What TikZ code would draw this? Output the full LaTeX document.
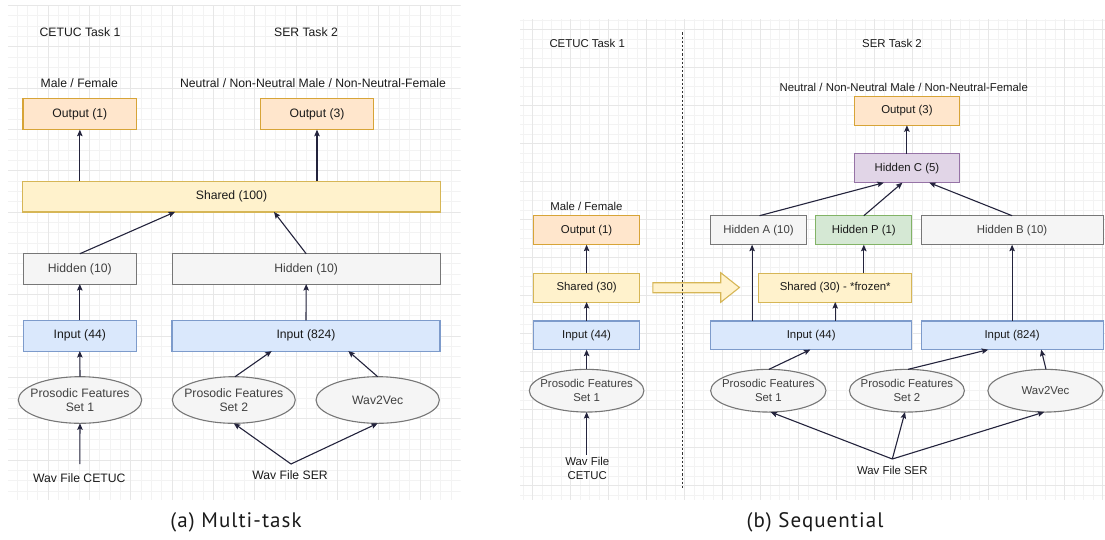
\documentclass[tikz,border=0pt]{standalone}
\usepackage{fontspec}
\setmainfont{Liberation Sans}
\newfontfamily\capfont[LetterSpace=5]{PT Sans}
\usetikzlibrary{arrows.meta,shapes.geometric,calc}

\definecolor{gridminor}{HTML}{F3F3F3}
\definecolor{gridmajor}{HTML}{E7E7E7}
\definecolor{orfill}{HTML}{FFE6CC}
\definecolor{ordraw}{HTML}{D7A437}
\definecolor{yefill}{HTML}{FFF2CC}
\definecolor{yedraw}{HTML}{D6B656}
\definecolor{grfill}{HTML}{F5F5F5}
\definecolor{grdraw}{HTML}{777777}
\definecolor{blfill}{HTML}{DAE8FC}
\definecolor{bldraw}{HTML}{7D9BCB}
\definecolor{pufill}{HTML}{E1D5E7}
\definecolor{pudraw}{HTML}{9673A6}
\definecolor{gnfill}{HTML}{D5E8D4}
\definecolor{gndraw}{HTML}{82B366}
\definecolor{linecol}{HTML}{23233C}
\definecolor{txt}{HTML}{1A1A1A}

\tikzset{
  box/.style={draw, line width=1.1pt, inner sep=0pt, outer sep=0pt, text=txt},
  outbox/.style={box, fill=orfill, draw=ordraw},
  sharedbox/.style={box, fill=yefill, draw=yedraw},
  hidbox/.style={box, fill=grfill, draw=grdraw, text=black!75},
  inbox/.style={box, fill=blfill, draw=bldraw},
  hidc/.style={box, fill=pufill, draw=pudraw},
  hidp/.style={box, fill=gnfill, draw=gndraw},
  feat/.style={ellipse, draw=grdraw, fill=grfill, line width=1.1pt,
    inner xsep=-30pt, inner ysep=-12pt, outer sep=0pt, align=center, text=black!75},
  lbl/.style={inner sep=0pt, text=txt, align=center},
  arr/.style={draw=linecol, line width=1.1pt, -{Stealth[length=6.5pt,width=5.5pt,inset=1.2pt]}},
  fA/.style={font=\fontsize{12.2}{14.5}\selectfont},
  fB/.style={font=\fontsize{11.4}{14}\selectfont},
}

\begin{document}
\begin{tikzpicture}[x=1pt,y=-1pt]
\useasboundingbox (0,0) rectangle (1105,539);

% ---------- background grids ----------
\begin{scope}
  \clip (8,5) rectangle (460.7,499.5);
  \foreach \i in {0,...,44} {
    \pgfmathsetmacro\gx{6.7+10.333*\i}
    \draw[gridminor, line width=0.6pt] (\gx,0) -- (\gx,510);
  }
  \foreach \i in {0,...,48} {
    \pgfmathsetmacro\gy{5.3+10.333*\i}
    \draw[gridminor, line width=0.6pt] (0,\gy) -- (470,\gy);
  }
  \foreach \i in {0,...,11} {
    \pgfmathsetmacro\gx{6.7+41.333*\i}
    \draw[gridmajor, line width=0.7pt] (\gx,0) -- (\gx,510);
  }
  \foreach \i in {0,...,12} {
    \pgfmathsetmacro\gy{5.3+41.333*\i}
    \draw[gridmajor, line width=0.7pt] (0,\gy) -- (470,\gy);
  }
\end{scope}
\begin{scope}
  \clip (520,19) rectangle (1105,499);
  \foreach \i in {-53,...,9} {
    \pgfmathsetmacro\gx{1026.3+9.5*\i}
    \draw[gridminor, line width=0.6pt] (\gx,10) -- (\gx,510);
  }
  \foreach \i in {-6,...,46} {
    \pgfmathsetmacro\gy{67.7+9.5*\i}
    \draw[gridminor, line width=0.6pt] (510,\gy) -- (1110,\gy);
  }
  \foreach \i in {-14,...,3} {
    \pgfmathsetmacro\gx{1026.3+38*\i}
    \draw[gridmajor, line width=0.7pt] (\gx,10) -- (\gx,510);
  }
  \foreach \i in {-2,...,12} {
    \pgfmathsetmacro\gy{67.7+38*\i}
    \draw[gridmajor, line width=0.7pt] (510,\gy) -- (1110,\gy);
  }
\end{scope}

% ================= (a) multi-task =================
\begin{scope}[fA]
  \node[lbl] (tA1) at (80,32) {CETUC Task 1};
  \node[lbl] (tA2) at (306,32) {SER Task 2};
  \node[lbl] (mfA) at (79.3,83.3) {Male / Female};
  \node[lbl] (nnA) at (313,83.3) {Neutral / Non-Neutral Male / Non-Neutral-Female};

  \node[outbox, minimum width=113.7pt, minimum height=31pt] (outA1) at (79.85,114.2) {Output (1)};
  \node[outbox, minimum width=113.4pt, minimum height=31pt] (outA3) at (317,114.2) {Output (3)};
  \node[sharedbox, minimum width=418.4pt, minimum height=30.7pt] (shA) at (231.5,196.6) {Shared (100)};
  \node[hidbox, minimum width=113pt, minimum height=30.3pt] (hidA1) at (79.8,268.9) {Hidden (10)};
  \node[hidbox, minimum width=268.3pt, minimum height=30.3pt] (hidA2) at (306.2,268.9) {Hidden (10)};
  \node[inbox, minimum width=113pt, minimum height=30.7pt] (inA1) at (79.8,335.7) {Input (44)};
  \node[inbox, minimum width=268pt, minimum height=30.7pt] (inA2) at (306,335.7) {Input (824)};
  \node[feat, minimum width=123.4pt, minimum height=46.6pt] (pfA1) at (80,400) {Prosodic Features\\Set 1};
  \node[feat, minimum width=123pt, minimum height=46.6pt] (pfA2) at (233.8,400) {Prosodic Features\\Set 2};
  \node[feat, minimum width=123.3pt, minimum height=46.6pt] (wvA) at (377.7,400) {Wav2Vec};
  \node[lbl] (wavA1) at (79.3,478.3) {Wav File CETUC};
  \node[lbl] (wavA2) at (290,475) {Wav File SER};
  \coordinate (wavA1top) at (79.8,464);
  \coordinate (wavA2top) at (291,464);
\end{scope}

\draw[arr] (wavA1top) -- (pfA1.south);
\draw[arr] (pfA1.north) -- (inA1.south);
\draw[arr] (inA1.north) -- (hidA1.south);
\draw[arr] (hidA1.north) -- ([xshift=-56.5pt]shA.south);
\draw[arr] (wavA2top) -- (pfA2.south);
\draw[arr] (wavA2top) -- (wvA.south);
\draw[arr] ([xshift=1.2pt]pfA2.north) -- ([xshift=-34.3pt]inA2.south);
\draw[arr] (wvA.north) -- ([xshift=42.3pt]inA2.south);
\draw[arr] (inA2.north) -- (hidA2.south);
\draw[arr] (hidA2.north) -- ([xshift=42.5pt]shA.south);
\draw[arr] (outA1.south |- shA.north) -- (outA1.south);
\draw[arr] (outA3.south |- shA.north) -- (outA3.south);

% ================= (b) sequential =================
\begin{scope}[fB]
  \node[lbl] (tB1) at (587.2,43.3) {CETUC Task 1};
  \node[lbl] (tB2) at (892,43.3) {SER Task 2};
  \node[lbl] (nnB) at (903.7,87.3) {Neutral / Non-Neutral Male / Non-Neutral-Female};
  \node[lbl] (mfB) at (586.4,206.7) {Male / Female};

  % first task column
  \node[outbox, minimum width=105.6pt, minimum height=29pt] (outB1) at (586.6,230.2) {Output (1)};
  \node[sharedbox, minimum width=105.6pt, minimum height=28.7pt] (shB1) at (586.6,287.7) {Shared (30)};
  \node[inbox, minimum width=105.6pt, minimum height=28.7pt] (inB1) at (586.6,335.3) {Input (44)};
  \node[feat, minimum width=114.6pt, minimum height=42.7pt] (pfB1) at (586.6,390.7) {Prosodic Features\\Set 1};
  \node[lbl] (wavB1) at (587.2,468.7) {Wav File\\CETUC};
  \coordinate (wavB1top) at (586.6,455);

  % second task
  \node[outbox, minimum width=105.2pt, minimum height=29pt] (outB3) at (906.9,110.8) {Output (3)};
  \node[hidc, minimum width=105.2pt, minimum height=29pt] (hidC) at (906.9,168.2) {Hidden C (5)};
  \node[hidbox, minimum width=95.9pt, minimum height=29pt] (hidBA) at (758.5,230.2) {Hidden A (10)};
  \node[hidp, minimum width=95.8pt, minimum height=29pt] (hidBP) at (863.8,230.2) {Hidden P (1)};
  \node[hidbox, minimum width=182pt, minimum height=29pt] (hidBB) at (1012.1,230.2) {Hidden B (10)};
  \node[sharedbox, minimum width=152.9pt, minimum height=28.7pt] (shBF) at (835.2,287.7) {Shared (30) - *frozen*};
  \node[inbox, minimum width=201.1pt, minimum height=28.7pt] (inB44) at (811.2,335.3) {Input (44)};
  \node[inbox, minimum width=182pt, minimum height=28.7pt] (inB824) at (1012.1,335.3) {Input (824)};
  \node[feat, minimum width=115.3pt, minimum height=42.7pt] (pfB2) at (768.3,390.7) {Prosodic Features\\Set 1};
  \node[feat, minimum width=115pt, minimum height=42.7pt] (pfB3) at (906.9,390.7) {Prosodic Features\\Set 2};
  \node[feat, minimum width=115.2pt, minimum height=42.7pt] (wvB) at (1045.5,390.7) {Wav2Vec};
  \node[lbl] (wavB2) at (892.3,470) {Wav File SER};
  \coordinate (wavB2top) at (892.3,459);
\end{scope}

% transfer of the shared layer
\draw[yedraw, fill=yefill, line width=1.1pt, line join=miter]
  (652.8,282.7) -- (720.7,282.7) -- (720.7,272.7) -- (739.4,287.5)
  -- (720.7,302.3) -- (720.7,292.7) -- (652.8,292.7) -- cycle;
% separator between the two tasks
\draw[black!80, line width=1.1pt, dash pattern=on 2.2pt off 2pt] (682.3,32.3) -- (682.3,488.3);

\draw[arr] (wavB1top) -- (pfB1.south);
\draw[arr] (pfB1.north) -- (inB1.south);
\draw[arr] (inB1.north) -- (shB1.south);
\draw[arr] (shB1.north) -- (outB1.south);

\draw[arr] (wavB2top) -- ([xshift=2.4pt]pfB2.south);
\draw[arr] (wavB2top) -- ([xshift=-1.9pt]pfB3.south);
\draw[arr] (wavB2top) -- ([xshift=-1.3pt]wvB.south);
\draw[arr] ([xshift=0.6pt]pfB2.north) -- ([xshift=-0.9pt]inB44.south);
\draw[arr] ([xshift=1.1pt]pfB3.north) -- ([xshift=-23.9pt]inB824.south);
\draw[arr] ([xshift=0.5pt]wvB.north) -- ([xshift=29.1pt]inB824.south);
\draw[arr] ([xshift=-6.4pt]hidBA.south |- inB44.north) -- ([xshift=-6.4pt]hidBA.south);
\draw[arr] (shBF.south |- inB44.north) -- (shBF.south);
\draw[arr] (hidBP.south |- shBF.north) -- (hidBP.south);
\draw[arr] (hidBB.south |- inB824.north) -- (hidBB.south);
\draw[arr] ([xshift=1pt]hidBA.north) -- ([xshift=-23.1pt]hidC.south);
\draw[arr] (hidBP.north) -- ([xshift=-4.5pt]hidC.south);
\draw[arr] (hidBB.north) -- ([xshift=22.4pt]hidC.south);
\draw[arr] (hidC.north) -- (outB3.south);

% ---------- captions ----------
\node[lbl, font=\capfont\fontsize{21}{24}\selectfont] (capA) at (236,522) {(a) Multi-task};
\node[lbl, font=\capfont\fontsize{21}{24}\selectfont] (capB) at (815,522) {(b) Sequential};
\end{tikzpicture}
\end{document}
